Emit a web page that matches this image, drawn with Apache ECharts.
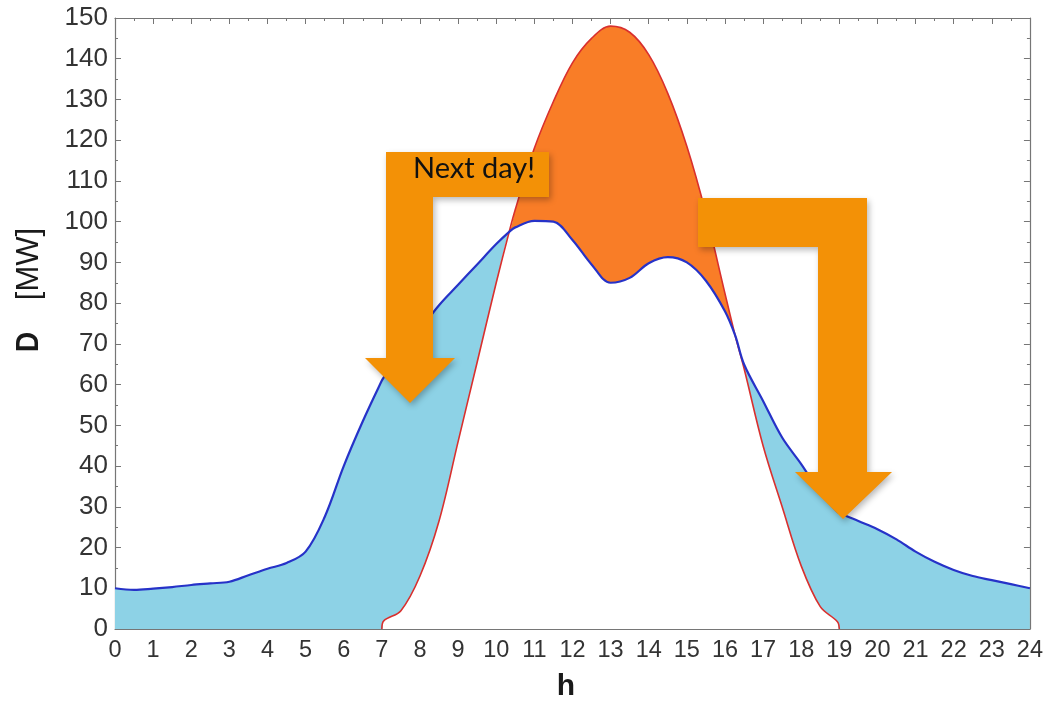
<!DOCTYPE html>
<html>
<head>
<meta charset="utf-8">
<title>Demand and solar output over the day</title>
<script src="https://cdn.jsdelivr.net/npm/echarts@6/dist/echarts.min.js"></script>
<style>
  html, body { margin: 0; padding: 0; background: #ffffff; }
  #chart { width: 1046px; height: 701px; }
</style>
</head>
<body>
<div id="chart"></div>
<script>
// Hour of day (shared sampling for both curves)
const hours = [0, 0.5, 1, 1.5, 2, 2.5, 3, 3.5, 4, 4.5, 5, 5.5, 6, 6.5, 7, 7.05, 7.5, 8, 8.5, 9, 9.5,
  10, 10.34, 10.5, 11, 11.5, 12, 12.5, 13, 13.5, 14, 14.5, 15, 15.5, 16, 16.27, 16.5, 17, 17.5,
  18, 18.5, 18.95, 19, 19.5, 20, 20.5, 21, 21.5, 22, 22.5, 23, 23.5, 24];

// Demand D [MW]
const demand = [10, 9.6, 9.9, 10.3, 10.8, 11.2, 11.6, 13.2, 14.8, 16.2, 19, 27.5, 40, 51, 61, 61.8, 68, 73.5, 79.5,
  84.5, 89.5, 94.5, 97.5, 98.6, 100.2, 100, 95.5, 89.5, 85, 86.2, 89.8, 91.3, 90, 85.5, 78, 72, 65,
  56, 47, 40.5, 33.5, 28.8, 28.5, 26.5, 24.5, 22, 19, 16.5, 14.5, 13, 12, 11, 10];

// Solar generation [MW]
const solar = [0, 0, 0, 0, 0, 0, 0, 0, 0, 0, 0, 0, 0, 0, 0, 2, 4.5, 13, 26.5, 46, 65.5, 85, 97.5, 103,
  118, 129.5, 139, 145, 148, 146.5, 141, 131.5, 118.5, 102, 82.4, 72, 64, 45, 30, 15.5, 5.5, 1.8, 0,
  0, 0, 0, 0, 0, 0, 0, 0, 0, 0];

// Axis ticks
const hourTicks = { min: 0, max: 24, step: 1 };
const mwTicks = { min: 0, max: 150, step: 10 };

const SMOOTH = 0.35;
const FONT = "'Liberation Sans', Arial, Helvetica, sans-serif";

// Fill layers, drawn back to front: upper envelope (orange), demand (light blue),
// lower envelope (white) so only the gap between the two curves keeps its colour.
const upper = hours.map((h, i) => [h, Math.max(demand[i], solar[i])]);
const lower = hours.map((h, i) => [h, Math.min(demand[i], solar[i])]);
const demandLine = hours.map((h, i) => [h, demand[i]]);
const solarLine = hours.map((h, i) => [h, (h >= 7 && h <= 19) ? solar[i] : null]);

const chart = echarts.init(document.getElementById('chart'), null, { renderer: 'canvas' });

const axisGray = '#767676';
function xAxisDef(pos, showLabels) {
  return {
    type: 'value', position: pos, min: hourTicks.min, max: hourTicks.max, interval: hourTicks.step,
    axisLine: { show: true, onZero: false, lineStyle: { color: axisGray, width: 1.2 } },
    axisTick: { show: true, inside: true, length: 6, lineStyle: { color: axisGray } },
    minorTick: { show: true, splitNumber: 2, length: 3, lineStyle: { color: axisGray } },
    splitLine: { show: false },
    axisLabel: { show: showLabels, margin: 10, color: '#333', fontSize: 23.5, fontFamily: FONT }
  };
}
function yAxisDef(pos, showLabels) {
  return {
    type: 'value', position: pos, min: mwTicks.min, max: mwTicks.max, interval: mwTicks.step,
    axisLine: { show: true, onZero: false, lineStyle: { color: axisGray, width: 1.2 } },
    axisTick: { show: true, inside: true, length: 6, lineStyle: { color: axisGray } },
    minorTick: { show: true, splitNumber: 2, length: 3, lineStyle: { color: axisGray } },
    splitLine: { show: false },
    axisLabel: { show: showLabels, margin: 7, color: '#333', fontSize: 26, fontFamily: FONT }
  };
}

function band(data, color, z) {
  return {
    type: 'line', data: data, smooth: SMOOTH, symbol: 'none', silent: true,
    lineStyle: { width: 0, opacity: 0 },
    areaStyle: { color: color, opacity: 1, origin: 'start' }, z: z
  };
}

const orange = '#F39106';
const shadow = { shadowBlur: 6, shadowOffsetX: 2, shadowOffsetY: 3, shadowColor: 'rgba(0,0,0,0.28)' };

chart.setOption({
  animation: false,
  backgroundColor: '#ffffff',
  grid: { left: 115, right: 14, top: 18, bottom: 72 },
  xAxis: [xAxisDef('bottom', true), xAxisDef('top', false)],
  yAxis: [yAxisDef('left', true), yAxisDef('right', false)],
  series: [
    band(upper, '#F97D27', 1),
    band(demandLine, '#8DD2E6', 1.1),
    band(lower, '#ffffff', 1.2),
    {
      name: 'Solar', type: 'line', data: solarLine, smooth: SMOOTH, symbol: 'none',
      connectNulls: false, lineStyle: { color: '#D9302E', width: 1.6 }, z: 3
    },
    {
      name: 'Demand', type: 'line', data: demandLine, smooth: SMOOTH, symbol: 'none',
      lineStyle: { color: '#2632C8', width: 2.2 }, z: 4
    }
  ],
  graphic: [
    // axis titles
    {
      type: 'text', x: 29, y: 342, rotation: Math.PI / 2, scaleX: 0.87, z: 50,
      style: {
        text: 'D', font: "bold 32px 'Liberation Sans', Arial, sans-serif", fill: '#1a1a1a',
        align: 'center', verticalAlign: 'middle'
      }
    },
    {
      type: 'text', x: 29, y: 264, rotation: Math.PI / 2, z: 50,
      style: {
        text: '[MW]', font: "31px 'Liberation Sans', Arial, sans-serif", fill: '#1a1a1a',
        align: 'center', verticalAlign: 'middle'
      }
    },
    {
      type: 'text', x: 566, y: 687, z: 50,
      style: {
        text: 'h', font: "bold 30px 'Liberation Sans', Arial, sans-serif", fill: '#1a1a1a',
        align: 'center', verticalAlign: 'middle'
      }
    },
    // "next day" arrows
    {
      type: 'polygon', z: 100,
      shape: { points: [[386, 152], [549, 152], [549, 197], [433, 197], [433, 358], [455, 358],
        [410, 403], [365, 358], [386, 358]] },
      style: Object.assign({ fill: orange }, shadow)
    },
    {
      type: 'polygon', z: 100,
      shape: { points: [[698, 198], [867, 198], [867, 472], [892, 472], [843, 519], [795, 472],
        [818, 472], [818, 247], [698, 247]] },
      style: Object.assign({ fill: orange }, shadow)
    },
    {
      type: 'text', x: 474, y: 169, z: 101,
      style: {
        text: 'Next day!', font: "29px Lato, 'Open Sans', sans-serif", fill: '#111',
        align: 'center', verticalAlign: 'middle'
      }
    }
  ]
});
</script>
</body>
</html>
